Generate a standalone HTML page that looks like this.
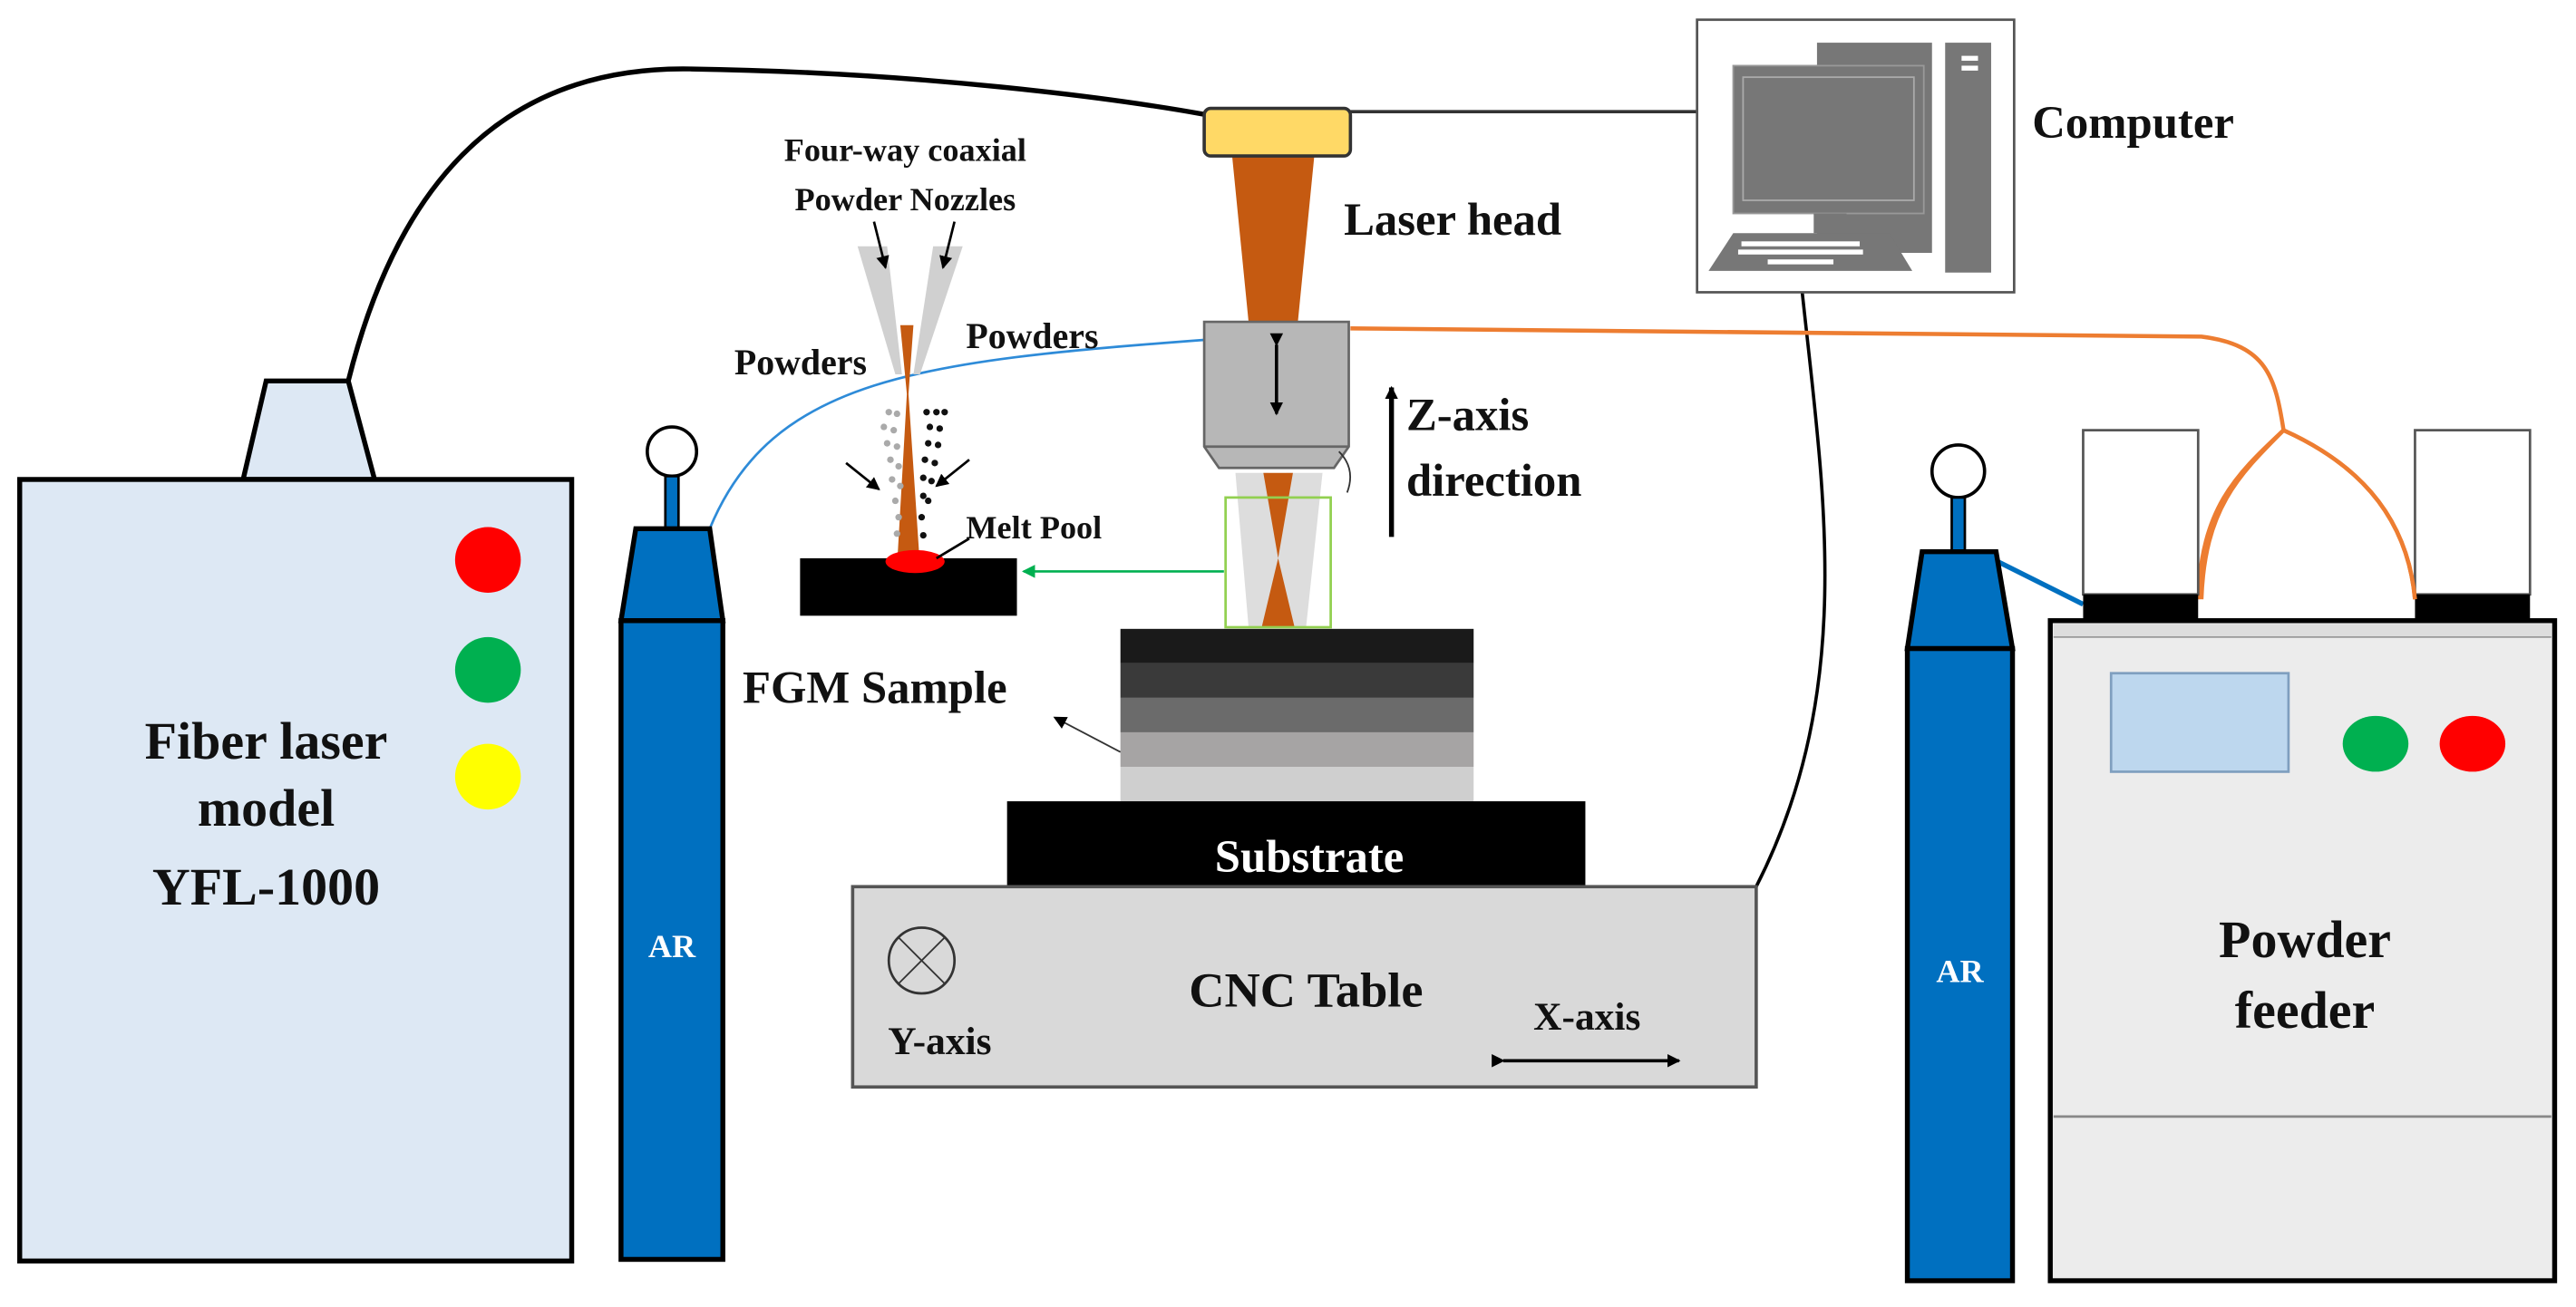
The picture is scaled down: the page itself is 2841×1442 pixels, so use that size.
<!DOCTYPE html>
<html><head><style>html,body{margin:0;padding:0;background:#fff}svg{display:block}</style></head>
<body>
<svg width="2841" height="1442" viewBox="0 0 1568 796" preserveAspectRatio="none" xmlns="http://www.w3.org/2000/svg" font-family="Liberation Serif, serif" font-weight="bold">
<defs>
<marker id="ah" markerWidth="8" markerHeight="8" refX="7" refY="4" orient="auto" markerUnits="userSpaceOnUse"><path d="M0,0 L8,4 L0,8 z" fill="#000"/></marker>
<marker id="ahg" markerWidth="8" markerHeight="8" refX="7" refY="4" orient="auto" markerUnits="userSpaceOnUse"><path d="M0,0 L8,4 L0,8 z" fill="#00b050"/></marker>
</defs>
<!-- cables -->
<path d="M212,232 C240,120 300,40 420,42 C560,44 680,60 735,70" fill="none" stroke="#000" stroke-width="3"/>
<line x1="822" y1="68" x2="1033" y2="68" stroke="#333" stroke-width="2"/>
<path d="M1097,178 C1110,300 1130,420 1069,540" fill="none" stroke="#000" stroke-width="2"/>
<path d="M822,200 L1340,205 C1380,210 1385,230 1390,262 C1360,290 1340,310 1338,365 M1390,262 C1430,280 1465,310 1470,365" fill="none" stroke="#ed7d31" stroke-width="2.5"/>
<path d="M432,322 C470,230 560,220 733,207" fill="none" stroke="#2e8bd8" stroke-width="1.5"/>
<line x1="1212" y1="340" x2="1268" y2="368" stroke="#0070c0" stroke-width="3"/>
<!-- fiber laser -->
<path d="M148,292 L162,232 L212,232 L228,292 z" fill="#dde8f4" stroke="#000" stroke-width="3"/>
<rect x="12" y="292" width="336" height="476" fill="#dde8f4" stroke="#000" stroke-width="3"/>
<circle cx="297" cy="341" r="20" fill="#f00"/>
<circle cx="297" cy="408" r="20" fill="#00b050"/>
<circle cx="297" cy="473" r="20" fill="#ff0"/>
<g font-size="32" text-anchor="middle" fill="#111"><text x="162" y="462">Fiber laser</text><text x="162" y="503">model</text><text x="162" y="551">YFL-1000</text></g>
<!-- left AR -->
<circle cx="409" cy="275" r="15" fill="#fff" stroke="#000" stroke-width="2"/>
<rect x="405" y="290" width="8" height="32" fill="#0070c0" stroke="#000" stroke-width="1.5"/>
<path d="M378,378 L387,322 L432,322 L440,378 z" fill="#0070c0" stroke="#000" stroke-width="3"/>
<rect x="378" y="378" width="62" height="389" fill="#0070c0" stroke="#000" stroke-width="3"/>
<text x="409" y="583" font-size="20" fill="#fff" text-anchor="middle">AR</text>
<!-- right AR -->
<circle cx="1192" cy="287" r="16" fill="#fff" stroke="#000" stroke-width="2"/>
<rect x="1188" y="303" width="8" height="33" fill="#0070c0" stroke="#000" stroke-width="1.5"/>
<path d="M1161,395 L1170,336 L1215,336 L1225,395 z" fill="#0070c0" stroke="#000" stroke-width="3"/>
<rect x="1161" y="395" width="64" height="385" fill="#0070c0" stroke="#000" stroke-width="3"/>
<text x="1193" y="598" font-size="20" fill="#fff" text-anchor="middle">AR</text>
<!-- powder feeder -->
<rect x="1268" y="262" width="70" height="100" fill="#fff" stroke="#555" stroke-width="1.5"/>
<rect x="1268" y="362" width="70" height="16" fill="#000"/>
<rect x="1470" y="262" width="70" height="100" fill="#fff" stroke="#555" stroke-width="1.5"/>
<rect x="1470" y="362" width="70" height="16" fill="#000"/>
<path d="M1340,365 C1342,310 1362,290 1390,262 C1430,280 1465,310 1470,365" fill="none" stroke="#ed7d31" stroke-width="2.5"/>
<rect x="1248" y="378" width="307" height="402" fill="#ececec" stroke="#000" stroke-width="3"/>
<rect x="1250" y="380" width="303" height="8" fill="#ddd"/>
<line x1="1250" y1="388" x2="1553" y2="388" stroke="#999" stroke-width="1"/>
<line x1="1250" y1="680" x2="1553" y2="680" stroke="#888" stroke-width="1.5"/>
<rect x="1285" y="410" width="108" height="60" fill="#bdd7ee" stroke="#7f9fbf" stroke-width="1.5"/>
<ellipse cx="1446" cy="453" rx="20" ry="17" fill="#00b050"/>
<ellipse cx="1505" cy="453" rx="20" ry="17" fill="#f00"/>
<g font-size="32" text-anchor="middle" fill="#111"><text x="1403" y="583">Powder</text><text x="1403" y="626">feeder</text></g>
<!-- computer -->
<rect x="1033" y="12" width="193" height="166" fill="#fff" stroke="#555" stroke-width="1.5"/>
<rect x="1106" y="26" width="70" height="128" fill="#777"/>
<rect x="1184" y="26" width="28" height="140" fill="#777"/>
<rect x="1194" y="34" width="10" height="3" fill="#fff"/><rect x="1194" y="40" width="10" height="3" fill="#fff"/>
<rect x="1055" y="40" width="116" height="90" fill="#777" stroke="#999" stroke-width="1"/>
<rect x="1061" y="47" width="104" height="75" fill="#777" stroke="#aaa" stroke-width="1"/>
<rect x="1104" y="130" width="20" height="12" fill="#777"/>
<path d="M1055,142 L1150,142 L1164,165 L1040,165 z" fill="#777"/>
<g fill="#fff"><rect x="1060" y="147" width="72" height="3"/><rect x="1058" y="152" width="76" height="3"/><rect x="1076" y="158" width="40" height="3"/></g>
<text x="1237" y="84" font-size="28" fill="#111">Computer</text>
<!-- laser head -->
<path d="M750,95 L800,95 L790,196 L760,196 z" fill="#c55a11"/>
<rect x="733" y="66" width="89" height="29" rx="4" fill="#ffd966" stroke="#333" stroke-width="2"/>
<text x="818" y="143" font-size="28" fill="#111">Laser head</text>
<path d="M733,196 L821,196 L821,272 L812,285 L742,285 L733,272 z" fill="#b7b7b7" stroke="#666" stroke-width="1.5"/>
<line x1="733" y1="272" x2="821" y2="272" stroke="#666" stroke-width="1.5"/>
<line x1="777" y1="210" x2="777" y2="252" stroke="#000" stroke-width="2" marker-end="url(#ah)" marker-start="url(#ah)"/>
<path d="M752,288 L772,288 L778,340 L774,382 L760,382 z" fill="#ddd"/>
<path d="M783,288 L805,288 L795,382 L780,382 L778,340 z" fill="#ddd"/>
<path d="M769,288 L787,288 L778,340 L788,382 L768,382 L778,340 z" fill="#c55a11"/>
<rect x="746" y="303" width="64" height="79" fill="none" stroke="#92d050" stroke-width="1.5"/>
<path d="M815,275 C823,283 823,292 820,300" fill="none" stroke="#333" stroke-width="1"/>
<line x1="745" y1="348" x2="623" y2="348" stroke="#00b050" stroke-width="1.5" marker-end="url(#ahg)"/>
<line x1="847" y1="327" x2="847" y2="236" stroke="#000" stroke-width="3" marker-end="url(#ah)"/>
<g font-size="28" fill="#111"><text x="856" y="262">Z-axis</text><text x="856" y="302">direction</text></g>
<!-- FGM -->
<rect x="682" y="383" width="215" height="21" fill="#1a1a1a"/>
<rect x="682" y="404" width="215" height="21" fill="#3a3a3a"/>
<rect x="682" y="425" width="215" height="21" fill="#6b6b6b"/>
<rect x="682" y="446" width="215" height="21" fill="#a6a4a4"/>
<rect x="682" y="467" width="215" height="21" fill="#cfcfcf"/>
<text x="452" y="428" font-size="28" fill="#111">FGM Sample</text>
<line x1="682" y1="458" x2="642" y2="437" stroke="#333" stroke-width="1" marker-end="url(#ah)"/>
<rect x="613" y="488" width="352" height="52" fill="#000"/>
<text x="797" y="531" font-size="28" fill="#fff" text-anchor="middle">Substrate</text>
<rect x="519" y="540" width="550" height="122" fill="#d9d9d9" stroke="#555" stroke-width="2"/>
<text x="795" y="613" font-size="30" fill="#111" text-anchor="middle">CNC Table</text>
<circle cx="561" cy="585" r="20" fill="none" stroke="#333" stroke-width="1.5"/>
<path d="M547,571 L575,599 M575,571 L547,599" stroke="#333" stroke-width="1"/>
<text x="572" y="642" font-size="24" fill="#111" text-anchor="middle">Y-axis</text>
<text x="966" y="627" font-size="24" fill="#111" text-anchor="middle">X-axis</text>
<line x1="915" y1="646" x2="1022" y2="646" stroke="#000" stroke-width="2" marker-end="url(#ah)" marker-start="url(#ah)"/>
<!-- nozzle detail -->
<g font-size="20" fill="#111" text-anchor="middle"><text x="551" y="98">Four-way coaxial</text><text x="551" y="128">Powder Nozzles</text></g>
<path d="M522,150 L540,150 L549,228 L545,228 z" fill="#d0d0d0"/>
<path d="M568,150 L586,150 L560,228 L556,228 z" fill="#d0d0d0"/>
<path d="M548,198 L556,198 L553,240 L560,345 L546,345 L552,240 z" fill="#c55a11"/>
<line x1="532" y1="135" x2="539" y2="163" stroke="#000" stroke-width="1.5" marker-end="url(#ah)"/>
<line x1="581" y1="135" x2="574" y2="163" stroke="#000" stroke-width="1.5" marker-end="url(#ah)"/>
<g font-size="22" fill="#111"><text x="447" y="228">Powders</text><text x="588" y="212">Powders</text></g>
<g fill="#aaa"><circle cx="541" cy="251" r="2"/><circle cx="546" cy="252" r="2"/><circle cx="538" cy="260" r="2"/><circle cx="544" cy="262" r="2"/><circle cx="540" cy="270" r="2"/><circle cx="546" cy="272" r="2"/><circle cx="542" cy="280" r="2"/><circle cx="547" cy="284" r="2"/><circle cx="543" cy="292" r="2"/><circle cx="548" cy="296" r="2"/><circle cx="545" cy="305" r="2"/><circle cx="547" cy="315" r="2"/><circle cx="546" cy="325" r="2"/></g>
<g fill="#111"><circle cx="564" cy="251" r="2"/><circle cx="570" cy="251" r="2"/><circle cx="575" cy="251" r="2"/><circle cx="566" cy="260" r="2"/><circle cx="572" cy="261" r="2"/><circle cx="565" cy="270" r="2"/><circle cx="571" cy="271" r="2"/><circle cx="563" cy="280" r="2"/><circle cx="569" cy="282" r="2"/><circle cx="562" cy="291" r="2"/><circle cx="567" cy="293" r="2"/><circle cx="562" cy="302" r="2"/><circle cx="565" cy="305" r="2"/><circle cx="561" cy="315" r="2"/><circle cx="562" cy="326" r="2"/></g>
<line x1="515" y1="282" x2="535" y2="298" stroke="#000" stroke-width="1.5" marker-end="url(#ah)"/>
<line x1="590" y1="280" x2="570" y2="296" stroke="#000" stroke-width="1.5" marker-end="url(#ah)"/>
<rect x="487" y="340" width="132" height="35" fill="#000"/>
<ellipse cx="557" cy="342" rx="18" ry="7" fill="#f00"/>
<line x1="590" y1="328" x2="570" y2="340" stroke="#000" stroke-width="1.5"/>
<text x="588" y="328" font-size="20" fill="#111">Melt Pool</text>
</svg>
</body></html>
